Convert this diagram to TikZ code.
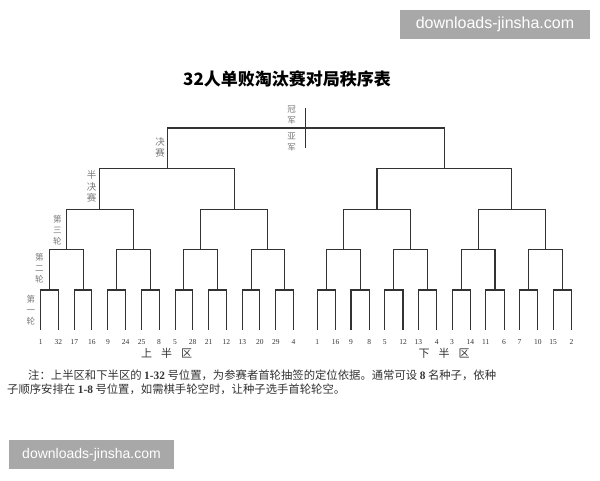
\documentclass[tikz,border=0pt]{standalone}
\usepackage{fontspec}
\setmainfont{Liberation Serif}
\newfontfamily\cjk{Noto Sans CJK SC}
\newfontfamily\wm{Liberation Sans}
\usetikzlibrary{calc}
\definecolor{linec}{HTML}{333333}
\definecolor{labc}{HTML}{7A7A7A}
\definecolor{wmbg}{HTML}{A8A8A8}
\begin{document}
\begin{tikzpicture}[x=1pt,y=-1pt,
  br/.style={draw=linec,line width=1.1pt},
  num/.style={inner sep=0pt,font=\fontsize{7.5}{8}\selectfont,text=linec},
  vlab/.style={inner sep=0pt,align=center,text=labc,font=\cjk\fontsize{8.5}{10.8}\selectfont},
  half/.style={inner sep=0pt,text=linec,font=\cjk\fontsize{11}{12}\selectfont},
  note/.style={inner sep=0pt,anchor=west,text=linec,font=\cjk\fontsize{11.35}{12}\selectfont},
  wmbox/.style={fill=wmbg,draw=none,text=white,inner sep=0pt}]
\useasboundingbox (0,0) rectangle (600,480);
\fill[white] (0,0) rectangle (600,480);

% title
\node[inner sep=0pt,font=\cjk\bfseries\fontsize{17}{18}\selectfont] (title) at (287,79) {32人单败淘汰赛对局秩序表};

% brackets
\foreach \h/\xs/\d/\w in {u/40.7/33.6/17.6,l/317.3/33.7/18.3}{
  \foreach \k in {0,...,7}{
    \pgfmathsetmacro\xa{\xs+\d*\k}
    \pgfmathsetmacro\xb{\xa+\w}
    \pgfmathtruncatemacro\ka{2*\k}
    \pgfmathtruncatemacro\kb{2*\k+1}
    \coordinate (\h-0-\ka) at (\xa,330);
    \coordinate (\h-0-\kb) at (\xb,330);
  }
  \foreach \l/\y/\n in {1/290/7,2/249.3/3,3/209.3/1,4/168.3/0}{
    \foreach \i in {0,...,\n}{
      \pgfmathsetmacro\mx{\xs+\w/2+\d*(2^(\l-1)-1)/2+\d*2^(\l-1)*\i}
      \pgfmathtruncatemacro\pl{\l-1}
      \pgfmathtruncatemacro\ca{2*\i}
      \pgfmathtruncatemacro\cb{2*\i+1}
      \coordinate (\h-\l-\i) at (\mx,\y);
      \draw[br] (\h-\pl-\ca) |- (\h-\l-\i) -| (\h-\pl-\cb);
    }
  }
}
\coordinate (final) at (305.8,128);
\draw[br] (u-4-0) |- (final) -| (l-4-0);
\coordinate (ctop) at (305.8,107.5);
\coordinate (cbot) at (305.8,147.5);
\draw[br] (ctop) -- (cbot);

% leaf numbers
\foreach \v [count=\c from 0] in {1,32,17,16,9,24,25,8,5,28,21,12,13,20,29,4}{
  \node[num] (nu-\c) at ($(u-0-\c)+(0,12)$) {\v};
}
\foreach \v [count=\c from 0] in {1,16,9,8,5,12,13,4,3,14,11,6,7,10,15,2}{
  \node[num] (nl-\c) at ($(l-0-\c)+(0,12)$) {\v};
}

% half labels
\node[half] (uh) at (166.7,353) {上\hspace{9pt}半\hspace{9pt}区};
\node[half] (lh) at (444,353) {下\hspace{9pt}半\hspace{9pt}区};

% round labels
\node[vlab] (champ) at (291.7,115) {冠\\军};
\node[vlab] (runner) at (291.7,141.7) {亚\\军};
\node[vlab,font=\cjk\fontsize{9.5}{11}\selectfont] (fin) at (160,147.2) {决\\赛};
\node[vlab,font=\cjk\fontsize{9.5}{11.5}\selectfont] (semi) at (91.7,186.7) {半\\决\\赛};
\node[vlab] (r3) at (57.3,230.3) {第\\三\\轮};
\node[vlab] (r2) at (39.3,268.2) {第\\二\\轮};
\node[vlab] (r1) at (31,310) {第\\一\\轮};

% note
\node[note] (note1) at (28,375) {注：上半区和下半区的 {\rmfamily\bfseries 1-32} 号位置，为参赛者首轮抽签的定位依据。通常可设 {\rmfamily\bfseries 8} 名种子，依种};
\node[note] (note2) at (7,389.5) {子顺序安排在 {\rmfamily\bfseries 1-8} 号位置，如需棋手轮空时，让种子选手首轮轮空。};

% watermarks
\node[wmbox,minimum width=190pt,minimum height=29.3pt,font=\wm\fontsize{16}{17}\selectfont] (wm1) at (495,24.65) {downloads-jinsha.com};
\node[wmbox,minimum width=165pt,minimum height=29.3pt,font=\wm\fontsize{14}{15}\selectfont] (wm2) at (91.5,454.65) {downloads-jinsha.com};
\end{tikzpicture}
\end{document}
